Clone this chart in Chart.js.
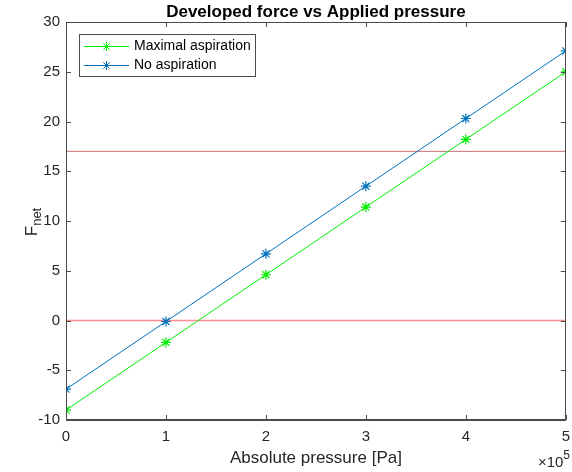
<!DOCTYPE html>
<html>
<head>
<meta charset="utf-8">
<script src="https://cdn.jsdelivr.net/npm/chart.js@4"></script>
<style>
html,body{margin:0;padding:0;background:#fff;}
canvas{display:block;}
</style>
</head>
<body>
<canvas id="c" width="572" height="472"></canvas>
<script>
const pressures = [0, 100000, 200000, 300000, 400000, 500000];
const maximalAspiration = [-9.0, -2.2, 4.6, 11.4, 18.2, 25.0];
const noAspiration = [-6.9, -0.1, 6.7, 13.5, 20.3, 27.1];
const zeroLine = [0, 0];
const thresholdLine = [17, 17];
const lineRangeX = [0, 500000];
const xTickLabels = ['0', '1', '2', '3', '4', '5'];
const yTickValues = [-10, -5, 0, 5, 10, 15, 20, 25, 30];
const seriesLabels = ['Maximal aspiration', 'No aspiration'];
const titleText = 'Developed force vs Applied pressure';
const xTitle = 'Absolute pressure [Pa]';

const FONT = '"Liberation Sans", Arial, Helvetica, sans-serif';
const TXT = '#262626';
const AX = '#4a4a4a';
const GREEN = '#00ee00';
const BLUE = '#0072BD';
const RED0 = '#ff8c8c';
const RED17 = '#c87272';

const toPts = (xs, ys) => xs.map((x, i) => ({x: x, y: ys[i]}));

const decor = {
  id: 'decor',
  afterDraw(chart) {
    const ctx = chart.ctx;
    const a = chart.chartArea;
    const xs = chart.scales.x, ys = chart.scales.y;
    ctx.save();
    // frame
    ctx.strokeStyle = AX;
    ctx.lineWidth = 1;
    ctx.beginPath();
    ctx.rect(Math.round(a.left) + 0.5, Math.round(a.top) + 0.5, Math.round(a.right - a.left) - 1, Math.round(a.bottom - a.top) - 1);
    ctx.stroke();
    // inward ticks
    const tl = 5;
    ctx.beginPath();
    xs.ticks.forEach(t => {
      const px = Math.round(xs.getPixelForValue(t.value)) + 0.5;
      ctx.moveTo(px, a.bottom); ctx.lineTo(px, a.bottom - tl);
      ctx.moveTo(px, a.top); ctx.lineTo(px, a.top + tl);
    });
    ys.ticks.forEach(t => {
      const py = Math.round(ys.getPixelForValue(t.value)) + 0.5;
      ctx.moveTo(a.left, py); ctx.lineTo(a.left + tl, py);
      ctx.moveTo(a.right, py); ctx.lineTo(a.right - tl, py);
    });
    ctx.stroke();

    // title
    ctx.fillStyle = '#000';
    ctx.font = 'bold 17px ' + FONT;
    ctx.textAlign = 'center';
    ctx.textBaseline = 'middle';
    const cx = (a.left + a.right) / 2;
    ctx.fillText(titleText, cx, 12);

    // x title
    ctx.fillStyle = TXT;
    ctx.font = '17px ' + FONT;
    ctx.fillText(xTitle, cx, 458);

    // x10^5
    ctx.textAlign = 'left';
    ctx.textBaseline = 'alphabetic';
    ctx.font = '15px ' + FONT;
    const base = '\u00d710';
    const bw = ctx.measureText(base).width;
    ctx.font = '12px ' + FONT;
    const ew = ctx.measureText('5').width;
    const startX = 570 - bw - ew;
    ctx.font = '15px ' + FONT;
    ctx.fillText(base, startX, 467);
    ctx.font = '12px ' + FONT;
    ctx.fillText('5', startX + bw, 459);

    // y title F_net
    ctx.save();
    ctx.translate(31, 222);
    ctx.rotate(-Math.PI / 2);
    ctx.font = '17px ' + FONT;
    const fw = ctx.measureText('F').width;
    ctx.font = '13px ' + FONT;
    const nw = ctx.measureText('net').width;
    const tot = fw + nw;
    ctx.textAlign = 'left';
    ctx.textBaseline = 'alphabetic';
    ctx.font = '17px ' + FONT;
    ctx.fillText('F', -tot / 2, 6);
    ctx.font = '13px ' + FONT;
    ctx.fillText('net', -tot / 2 + fw, 10);
    ctx.restore();

    // legend
    const lx = 79.5, ly = 34.5, lw = 176, lh = 42;
    ctx.fillStyle = '#fff';
    ctx.fillRect(lx, ly, lw, lh);
    ctx.strokeStyle = '#4d4d4d';
    ctx.lineWidth = 1;
    ctx.strokeRect(lx, ly, lw, lh);
    const rows = [
      {label: chart.data.datasets[0].label, color: GREEN, y: 46.5},
      {label: chart.data.datasets[1].label, color: BLUE, y: 65.5}
    ];
    rows.forEach(r => {
      ctx.strokeStyle = r.color;
      ctx.lineWidth = 1;
      ctx.beginPath();
      ctx.moveTo(84, r.y); ctx.lineTo(129, r.y);
      ctx.stroke();
      Chart.helpers.drawPoint(ctx, {pointStyle: 'star', radius: 4.5, borderWidth: 1}, 106.5, r.y);
      ctx.fillStyle = '#000';
      ctx.font = '14px ' + FONT;
      ctx.textAlign = 'left';
      ctx.textBaseline = 'middle';
      ctx.fillText(r.label, 134, r.y);
    });
    ctx.restore();
  }
};

new Chart(document.getElementById('c'), {
  type: 'line',
  data: {
    datasets: [
      {
        label: seriesLabels[0],
        data: toPts(pressures, maximalAspiration),
        borderColor: GREEN,
        backgroundColor: GREEN,
        borderWidth: 1,
        pointStyle: 'star',
        pointRadius: 5,
        pointBorderWidth: 1.2,
        pointBorderColor: GREEN,
        tension: 0,
        fill: false
      },
      {
        label: seriesLabels[1],
        data: toPts(pressures, noAspiration),
        borderColor: BLUE,
        backgroundColor: BLUE,
        borderWidth: 1,
        pointStyle: 'star',
        pointRadius: 5,
        pointBorderWidth: 1.2,
        pointBorderColor: BLUE,
        tension: 0,
        fill: false
      },
      {
        label: 'zero',
        data: toPts(lineRangeX, zeroLine),
        borderColor: RED0,
        borderWidth: 1.6,
        pointRadius: 0,
        tension: 0,
        fill: false
      },
      {
        label: 'threshold',
        data: toPts(lineRangeX, thresholdLine),
        borderColor: RED17,
        borderWidth: 1,
        pointRadius: 0,
        tension: 0,
        fill: false
      }
    ]
  },
  options: {
    responsive: false,
    animation: false,
    devicePixelRatio: 1,
    layout: {padding: {left: 0, right: 3, top: 22, bottom: 0}},
    plugins: {
      legend: {display: false},
      title: {display: false},
      tooltip: {enabled: false}
    },
    scales: {
      x: {
        type: 'linear',
        min: 0,
        max: 500000,
        grid: {display: false, drawTicks: false},
        border: {display: true, color: AX},
        ticks: {
          stepSize: 100000,
          padding: 8,
          color: TXT,
          font: {family: FONT, size: 15},
          maxRotation: 0,
          callback: (v, i) => xTickLabels[i]
        },
        afterFit(s) { s.height = 52; s.paddingLeft = 0; s.paddingRight = 0; }
      },
      y: {
        type: 'linear',
        min: yTickValues[0],
        max: yTickValues[yTickValues.length - 1],
        grid: {display: false, drawTicks: false},
        border: {display: true, color: AX},
        ticks: {
          stepSize: 5,
          padding: 6,
          color: TXT,
          font: {family: FONT, size: 15}
        },
        afterFit(s) { s.width = 66; s.paddingTop = 0; s.paddingBottom = 0; }
      }
    }
  },
  plugins: [decor]
});
</script>
</body>
</html>
